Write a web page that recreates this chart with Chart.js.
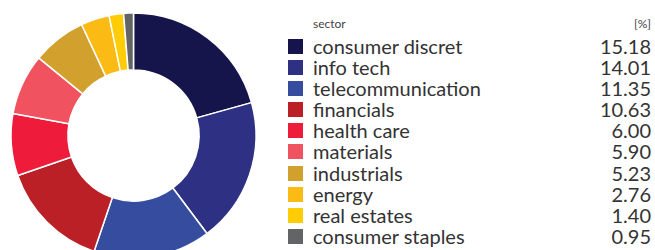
<!DOCTYPE html>
<html>
<head>
<meta charset="utf-8">
<script src="https://cdn.jsdelivr.net/npm/chart.js@4/dist/chart.umd.min.js"></script>
<style>
  html, body { margin: 0; padding: 0; width: 655px; height: 250px; overflow: hidden; background: #fff; font-family: Lato, sans-serif; }
  #wrap { position: absolute; left: 3px; top: 5px; width: 261px; height: 261px; }
  #legend { position: absolute; left: 288px; top: 14px; width: 363px; color: #333; }
  .head { position: relative; height: 22px; font-size: 12px; color: #444; }
  .head .l { position: absolute; left: 25px; top: 2px; }
  .head .r { position: absolute; right: 0; top: 2px; }
  .row { position: relative; height: 21.1px; font-size: 20px; line-height: 21px; }
  .row .sw { position: absolute; left: 0; top: 3px; width: 15px; height: 15px; }
  .row .l { position: absolute; left: 25px; top: 0; }
  .row .r { position: absolute; right: 0; top: 0; }
</style>
</head>
<body>
<div id="wrap"><canvas id="chart" width="261" height="261"></canvas></div>
<div id="legend"></div>
<script>
const sectors = ["consumer discret", "info tech", "telecommunication", "financials", "health care",
  "materials", "industrials", "energy", "real estates", "consumer staples"];
const weights = [15.18, 14.01, 11.35, 10.63, 6.00, 5.90, 5.23, 2.76, 1.40, 0.95];
const colors = ["#16154b", "#2e3083", "#364c9f", "#bb2027", "#ee1c3a",
  "#f0525f", "#d1a02d", "#fbba14", "#ffcc05", "#636466"];

const ctx = document.getElementById("chart").getContext("2d");
new Chart(ctx, {
  type: "doughnut",
  data: {
    labels: sectors,
    datasets: [{ data: weights, backgroundColor: colors, borderColor: "#fff", borderWidth: 1.5 }],
  },
  options: {
    responsive: false,
    animation: false,
    radius: 122.5,
    cutout: 69.5,
    layout: { padding: 0 },
    plugins: { legend: { display: false }, tooltip: { enabled: false } },
  },
});

// legend table
const legend = document.getElementById("legend");
let html = `<div class="head"><span class="l">sector</span><span class="r">[%]</span></div>`;
sectors.forEach((s, i) => {
  html += `<div class="row"><span class="sw" style="background:${colors[i]}"></span>
    <span class="l">${s}</span><span class="r">${weights[i].toFixed(2)}</span></div>`;
});
legend.innerHTML = html;
</script>
</body>
</html>
